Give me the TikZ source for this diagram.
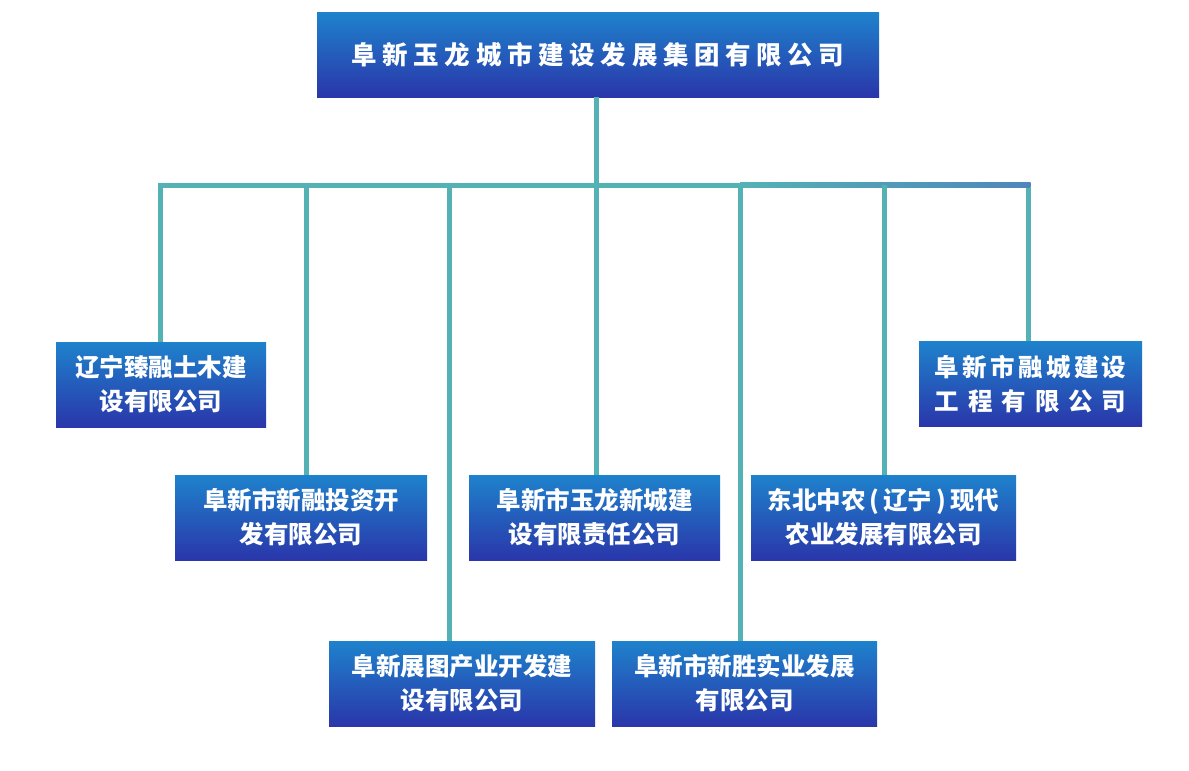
\documentclass[tikz,border=0pt]{standalone}
\usepackage{fontspec}
\newfontfamily\cjk{Noto Sans CJK SC}
\definecolor{boxtop}{RGB}{30,130,204}
\definecolor{boxbot}{RGB}{42,54,170}
\definecolor{lineteal}{RGB}{84,178,180}
\definecolor{lineblue}{RGB}{78,134,188}
\tikzset{
  orgbox/.style={rectangle, inner sep=0pt, top color=boxtop, bottom color=boxbot,
    text=white, align=center, font=\cjk\bfseries\fontsize{24.5}{34}\selectfont},
  link/.style={draw=lineteal, line width=5pt}
}
\newcommand{\spreadline}[2]{\makebox[#1][s]{#2}}
\begin{document}
\begin{tikzpicture}[x=1pt,y=-1pt]
\useasboundingbox (0,0) rectangle (1189,771);
\fill[white] (0,0) rectangle (1189,771);

% nodes
\node[orgbox, minimum width=562pt, minimum height=85pt, font=\cjk\bfseries\fontsize{25.5}{30}\selectfont] (top) at (598,54.5)
  {\spreadline{493pt}{阜\hfill 新\hfill 玉\hfill 龙\hfill 城\hfill 市\hfill 建\hfill 设\hfill 发\hfill 展\hfill 集\hfill 团\hfill 有\hfill 限\hfill 公\hfill 司}};

\node[orgbox, minimum width=210pt, minimum height=85pt] (b1) at (161,384.5) {辽宁臻融土木建\\设有限公司};
\node[orgbox, minimum width=252pt, minimum height=85pt] (b2) at (301,517.5) {阜新市新融投资开\\发有限公司};
\node[orgbox, minimum width=266pt, minimum height=85pt] (b3) at (462,683.5) {阜新展图产业开发建\\设有限公司};
\node[orgbox, minimum width=251pt, minimum height=85pt] (b4) at (594.5,517.5) {阜新市玉龙新城建\\设有限责任公司};
\node[orgbox, minimum width=265pt, minimum height=85pt] (b5) at (744.5,683.5) {阜新市新胜实业发展\\有限公司};
\node[orgbox, minimum width=265pt, minimum height=85pt] (b6) at (883.5,517.5) {东北中农\hspace{4pt}(\hspace{4pt}辽宁\hspace{4pt})\hspace{4pt}现代\\农业发展有限公司};
\node[orgbox, minimum width=223pt, minimum height=85pt] (b7) at (1030.5,384) {\spreadline{192pt}{阜\hfill 新\hfill 市\hfill 融\hfill 城\hfill 建\hfill 设}\\\spreadline{192pt}{工\hfill 程\hfill 有\hfill 限\hfill 公\hfill 司}};

% bus coordinates
\coordinate (busL) at (160,185);
\coordinate (busM) at (740,185);
\coordinate (busR) at (1030.5,185);
\coordinate (j0) at (596,185);
\coordinate (j1) at (160,185);
\coordinate (j2) at (306,185);
\coordinate (j3) at (449,185);
\coordinate (j4) at (596,185);
\coordinate (j5) at (740,185);
\coordinate (j6) at (884,185);
\coordinate (j7) at (1028,185);

% connectors
\draw[link] (top.south -| j0) -- (j0);
\draw[link, line cap=rect] (busL) -- (busM);
\shade[left color=lineteal, right color=lineblue] ([yshift=-2.5pt]busM) rectangle ([yshift=2.5pt]busR);
\draw[link] ([yshift=-2.5pt]j1) -- (j1 |- b1.north);
\draw[link] (j2) -- (j2 |- b2.north);
\draw[link] (j3) -- (j3 |- b3.north);
\draw[link] (j4) -- (j4 |- b4.north);
\draw[link] (j5) -- (j5 |- b5.north);
\draw[link] (j6) -- (j6 |- b6.north);
\draw[link] ([yshift=-2.5pt]j7) -- (j7 |- b7.north);
\end{tikzpicture}
\end{document}
